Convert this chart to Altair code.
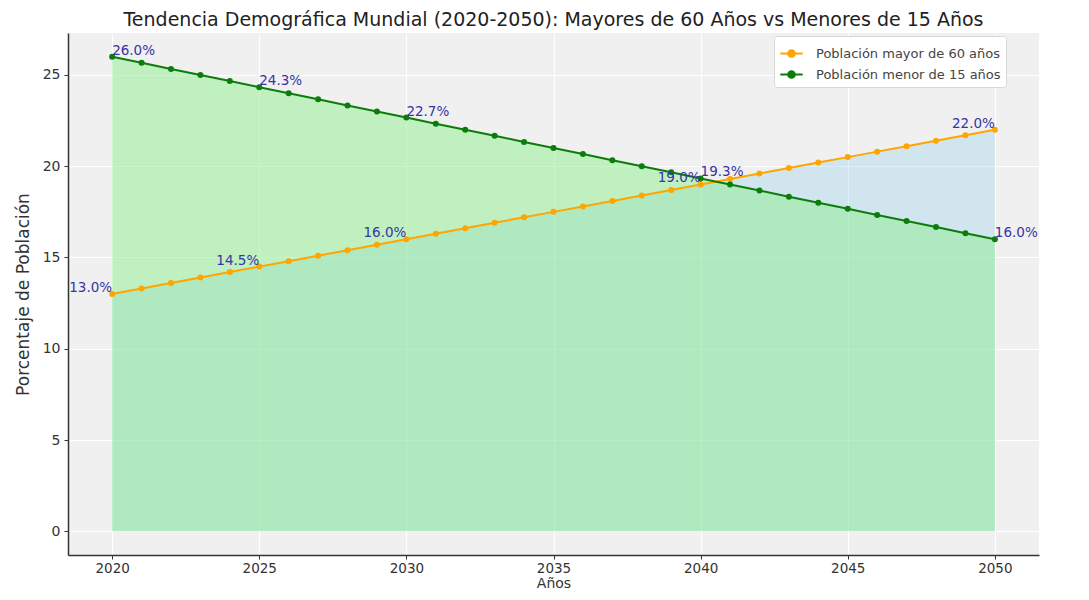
import altair as alt
import pandas as pd

years = list(range(2020, 2051))
older = [13.0, 13.3, 13.6, 13.9, 14.2, 14.5, 14.8, 15.1, 15.4, 15.7,
         16.0, 16.3, 16.6, 16.9, 17.2, 17.5, 17.8, 18.1, 18.4, 18.7,
         19.0, 19.3, 19.6, 19.9, 20.2, 20.5, 20.8, 21.1, 21.4, 21.7, 22.0]
younger = [26.0, 25.67, 25.33, 25.0, 24.67, 24.33, 24.0, 23.67, 23.33, 23.0,
           22.67, 22.33, 22.0, 21.67, 21.33, 21.0, 20.67, 20.33, 20.0, 19.67,
           19.33, 19.0, 18.67, 18.33, 18.0, 17.67, 17.33, 17.0, 16.67, 16.33, 16.0]
series_names = ["Población mayor de 60 años", "Población menor de 15 años"]
label_years = [2020, 2025, 2030, 2040, 2050]
older_labels = ["13.0%", "14.5%", "16.0%", "19.0%", "22.0%"]
younger_labels = ["26.0%", "24.3%", "22.7%", "19.3%", "16.0%"]
x_ticks = [2020, 2025, 2030, 2035, 2040, 2045, 2050]
y_ticks = [0, 5, 10, 15, 20, 25]

long = pd.concat([
    pd.DataFrame({"year": years, "value": older, "serie": series_names[0]}),
    pd.DataFrame({"year": years, "value": younger, "serie": series_names[1]}),
])
lab_old = pd.DataFrame({"year": label_years,
                        "value": [older[years.index(y)] for y in label_years],
                        "txt": older_labels})
lab_young = pd.DataFrame({"year": label_years,
                          "value": [younger[years.index(y)] for y in label_years],
                          "txt": younger_labels})

FONT = "DejaVu Sans"
x = alt.X("year:Q", scale=alt.Scale(domain=[2018.5, 2051.5], nice=False, zero=False),
          axis=alt.Axis(values=x_ticks, format="d", title="Años"))
y = alt.Y("value:Q", scale=alt.Scale(domain=[-1.3, 27.3], nice=False, zero=False),
          axis=alt.Axis(values=y_ticks, title="Porcentaje de Población"))

base = alt.Chart(long)
area_old = base.transform_filter(alt.datum.serie == series_names[0]).mark_area(
    color="#87CEEB", opacity=0.3).encode(x=x, y=y, y2=alt.datum(0))
area_young = base.transform_filter(alt.datum.serie == series_names[1]).mark_area(
    color="#90EE90", opacity=0.5).encode(x=x, y=y, y2=alt.datum(0))

color = alt.Color("serie:N", scale=alt.Scale(domain=series_names, range=["#FFA500", "#0a7d0a"]),
                  legend=alt.Legend(title=None, orient="none", legendX=706, legendY=3,
                                    symbolType="M-1,0L1,0M-0.3,0A0.3,0.3,0,1,1,0.3,0A0.3,0.3,0,1,1,-0.3,0Z",
                                    symbolSize=500, symbolStrokeWidth=2, labelLimit=0,
                                    labelFontSize=13, labelFont=FONT, labelColor="#444",
                                    fillColor="white", strokeColor="#d8d8d8", padding=5,
                                    cornerRadius=3, rowPadding=1, labelOffset=12))
lines = base.mark_line(strokeWidth=2).encode(x=x, y=y, color=color)
points = base.mark_circle(size=36, opacity=1).encode(x=x, y=y, color=color)

txt_old = alt.Chart(lab_old).mark_text(align="right", baseline="bottom", dy=1,
                                       color="#3535a5", fontSize=13.5, font=FONT).encode(
    x=x, y=y, text="txt:N")
txt_young = alt.Chart(lab_young).mark_text(align="left", baseline="bottom", dy=1,
                                           color="#3535a5", fontSize=13.5, font=FONT).encode(
    x=x, y=y, text="txt:N")

chart = alt.layer(area_old, area_young, lines, points, txt_old, txt_young).properties(
    width=971, height=522,
    title=alt.TitleParams("Tendencia Demográfica Mundial (2020-2050): Mayores de 60 Años vs Menores de 15 Años",
                          font=FONT, fontSize=19, fontWeight="normal", color="#222",
                          anchor="middle", offset=3),
    autosize=alt.AutoSizeParams(type="none"),
    padding={"left": 60, "top": 25, "right": 40, "bottom": 37},
).configure_view(fill="#f0f0f0", strokeWidth=0).configure_axis(
    labelFont=FONT, titleFont=FONT, labelFontSize=14, titleFontSize=16,
    labelColor="#333", titleColor="#333", titleFontWeight="normal",
    domainColor="#333", domainWidth=1.5, tickColor="#333", tickSize=4,
    gridColor="white", gridWidth=1.2,
).configure_axisY(titlePadding=10, labelPadding=4, titleFontSize=17).configure_axisX(
    titlePadding=2, labelPadding=2, labelFontSize=13.5, titleFontSize=14)

chart.save("out.html", embed_options={"renderer": "svg", "actions": False})
